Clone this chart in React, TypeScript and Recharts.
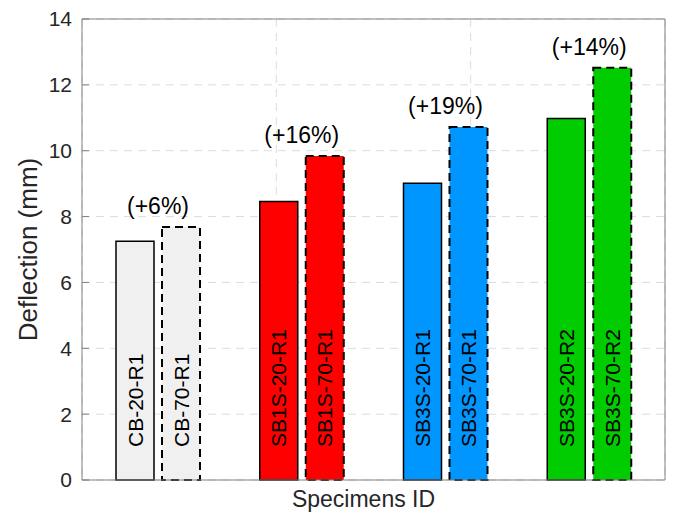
import React from "react";
import { BarChart, Bar, XAxis, YAxis, CartesianGrid, Cell, LabelList } from "recharts";

const groups = ["CB", "SB1S", "SB3S-R1", "SB3S-R2"];
const names20 = ["CB-20-R1", "SB1S-20-R1", "SB3S-20-R1", "SB3S-20-R2"];
const names70 = ["CB-70-R1", "SB1S-70-R1", "SB3S-70-R1", "SB3S-70-R2"];
const deflection20 = [7.25, 8.46, 9.01, 10.98];
const deflection70 = [7.68, 9.84, 10.72, 12.52];
const increase = ["(+6%)", "(+16%)", "(+19%)", "(+14%)"];
const colors = ["#f0f0f0", "#ff0000", "#0096ff", "#00cc00"];
const yTicks = [0, 2, 4, 6, 8, 10, 12, 14];
const gridTicks = [1, 2, 3, 4, 5, 6, 7];
const gridDomain = [0.67, 7.57];

const data = groups.map((g, i) => ({
	group: g,
	name20: names20[i],
	name70: names70[i],
	d20: deflection20[i],
	d70: deflection70[i],
	pct: increase[i],
}));

const FONT = "'Liberation Sans', Arial, Helvetica, sans-serif";
const AXIS = "#808080";
const TEXT = "#262626";

function InBarLabel(props: any) {
	const { x, y, width, height, value } = props;
	const cx = x + width / 2;
	const yb = y + height - 33;
	return (
		<text
			transform={`translate(${cx},${yb}) rotate(-90)`}
			x={0}
			y={0}
			dy="0.36em"
			fontSize={21}
			fill="#000"
			fontFamily={FONT}
		>
			{value}
		</text>
	);
}

function PctLabel(props: any) {
	const { x, y, value } = props;
	return (
		<text x={x - 4} y={y - 21} textAnchor="middle" dominantBaseline="central" fontSize={23} fill="#000" fontFamily={FONT}>
			{value}
		</text>
	);
}

export default function App() {
	return (
		<div style={{ position: "absolute", left: 0, top: 0, width: 674, height: 513, background: "#fff" }}>
			<BarChart
				width={674}
				height={513}
				data={data}
				margin={{ top: 0, right: 0, left: 0, bottom: 0 }}
				barSize={38}
				barGap={8}
				style={{ fontFamily: FONT }}
			>
				<CartesianGrid xAxisId="grid" stroke="#dcdcdc" strokeDasharray="8 6" />
				<XAxis xAxisId="grid" type="number" domain={gridDomain} ticks={gridTicks} hide allowDataOverflow />
				<XAxis
					xAxisId="top"
					orientation="top"
					type="number"
					domain={[0, 1]}
					height={19}
					tick={false}
					tickLine={false}
					axisLine={{ stroke: AXIS }}
				/>
				<XAxis
					dataKey="group"
					height={33}
					tick={false}
					tickLine={false}
					axisLine={{ stroke: AXIS }}
					padding={{ left: 4, right: 4 }}
					label={{ value: "Specimens ID", position: "insideBottom", offset: 6, dx: -10, fontSize: 23, fill: TEXT }}
				/>
				<YAxis
					domain={[0, 14]}
					ticks={yTicks}
					width={82}
					tickSize={-7}
					tickMargin={17}
					axisLine={{ stroke: AXIS }}
					tickLine={{ stroke: AXIS }}
					tick={{ fontSize: 21, fill: TEXT }}
					label={{ value: "Deflection (mm)", angle: -90, position: "center", dx: -13, fontSize: 26, fill: TEXT }}
				/>
				<YAxis
					yAxisId="right"
					orientation="right"
					domain={[0, 14]}
					ticks={yTicks}
					width={9}
					tick={false}
					tickSize={-7}
					axisLine={{ stroke: AXIS }}
					tickLine={{ stroke: AXIS }}
				/>
				<Bar dataKey="d20" stroke="#000" strokeWidth={1.5} isAnimationActive={false}>
					{data.map((d, i) => (
						<Cell key={d.group} fill={colors[i]} />
					))}
					<LabelList dataKey="name20" content={InBarLabel} />
				</Bar>
				<Bar dataKey="d70" stroke="#000" strokeWidth={2} strokeDasharray="8 5" isAnimationActive={false}>
					{data.map((d, i) => (
						<Cell key={d.group} fill={colors[i]} />
					))}
					<LabelList dataKey="name70" content={InBarLabel} />
					<LabelList dataKey="pct" content={PctLabel} />
				</Bar>
			</BarChart>
		</div>
	);
}
